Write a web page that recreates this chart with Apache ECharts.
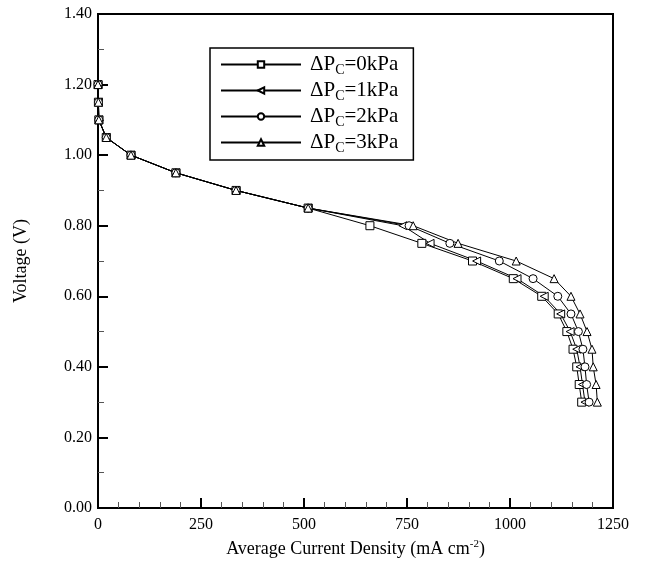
<!DOCTYPE html>
<html>
<head>
<meta charset="utf-8">
<script src="https://cdn.jsdelivr.net/npm/echarts@6/dist/echarts.min.js"></script>
<style>
  html, body { margin: 0; padding: 0; background: #fff; }
  #chart { width: 646px; height: 566px; }
</style>
</head>
<body>
<div id="chart"></div>
<script>
// voltage levels shared by all curves (V)
const voltage = [1.20, 1.15, 1.10, 1.05, 1.00, 0.95, 0.90, 0.85, 0.80, 0.75, 0.70, 0.65, 0.60, 0.55, 0.50, 0.45, 0.40, 0.35, 0.30];

// average current density (mA cm-2) for each cathode pressure drop
const dp0 = [0, 1, 2, 20, 80, 189, 335, 510, 660, 786, 909, 1008, 1077, 1117, 1138, 1153, 1162, 1168, 1174];
const dp1 = [0, 1, 2, 20, 80, 189, 335, 510, 740, 806, 919, 1017, 1083, 1123, 1146, 1162, 1170, 1176, 1182];
const dp2 = [0, 1, 2, 20, 80, 189, 335, 510, 755, 854, 974, 1056, 1116, 1148, 1166, 1177, 1182, 1186, 1192];
const dp3 = [0, 1, 2, 20, 80, 189, 335, 510, 765, 874, 1015, 1107, 1148, 1170, 1187, 1199, 1202, 1209, 1212];

const legendNames = ['ΔPC=0kPa', 'ΔPC=1kPa', 'ΔPC=2kPa', 'ΔPC=3kPa'];

const font = '"Liberation Serif", "DejaVu Serif", serif';

function pairs(xs) {
  return xs.map((x, i) => [x, voltage[i]]);
}

function makeSeries(name, xs, symbol, rotate) {
  return {
    name: name,
    type: 'line',
    data: pairs(xs),
    symbol: symbol,
    symbolRotate: rotate || 0,
    symbolSize: 8,
    showSymbol: true,
    lineStyle: { color: '#000', width: 1 },
    itemStyle: { color: '#fff', borderColor: '#000', borderWidth: 1 },
    emphasis: { disabled: true },
    animation: false
  };
}

const chart = echarts.init(document.getElementById('chart'));

const option = {
  backgroundColor: '#fff',
  animation: false,
  grid: {
    left: 98, right: 33, top: 14, bottom: 58,
    show: true, borderColor: '#000', borderWidth: 2
  },
  legend: {
    orient: 'vertical',
    left: 210, top: 48,
    data: legendNames,
    itemWidth: 80, itemHeight: 8,
    itemGap: 3,
    padding: [6, 15, 5, 10],
    borderColor: '#000', borderWidth: 1.5,
    backgroundColor: '#fff',
    formatter: function (n) {
      return '{a|ΔP}{s|C}{a|' + n.slice(3) + '}';
    },
    textStyle: {
      padding: [0, 0, 0, 4],
      rich: {
        a: { fontFamily: font, fontSize: 21, color: '#000' },
        s: { fontFamily: font, fontSize: 14, color: '#000', padding: [11, 0, 0, 0] }
      }
    }
  },
  xAxis: {
    type: 'value',
    min: 0, max: 1250, interval: 250,
    name: '{a|Average Current Density (mA cm}{s|-2}{a|)}',
    nameLocation: 'middle',
    nameGap: 31,
    nameTextStyle: {
      rich: {
        a: { fontFamily: font, fontSize: 18, color: '#000' },
        s: { fontFamily: font, fontSize: 11, color: '#000', padding: [0, 0, 9, 0] }
      }
    },
    axisLine: { lineStyle: { color: '#000', width: 2 } },
    axisTick: { inside: true, length: 10, lineStyle: { color: '#000', width: 2 } },
    minorTick: { show: true, splitNumber: 5, length: 6, lineStyle: { color: '#555', width: 1 } },
    splitLine: { show: false },
    axisLabel: {
      fontFamily: font, fontSize: 16, color: '#000', margin: 9,
      formatter: function (v) { return String(v); }
    }
  },
  yAxis: {
    type: 'value',
    min: 0, max: 1.4, interval: 0.2,
    name: 'Voltage (V)',
    nameLocation: 'middle',
    nameGap: 68,
    nameTextStyle: { fontFamily: font, fontSize: 18, color: '#000' },
    axisLine: { lineStyle: { color: '#000', width: 2 } },
    axisTick: { inside: true, length: 10, lineStyle: { color: '#000', width: 2 } },
    minorTick: { show: true, splitNumber: 2, length: 6, lineStyle: { color: '#555', width: 1 } },
    splitLine: { show: false },
    axisLabel: {
      fontFamily: font, fontSize: 16, color: '#000', margin: 6,
      formatter: function (v) { return v.toFixed(2); }
    }
  },
  series: [
    makeSeries(legendNames[0], dp0, 'rect'),
    makeSeries(legendNames[1], dp1, 'triangle', 90),
    makeSeries(legendNames[2], dp2, 'circle'),
    makeSeries(legendNames[3], dp3, 'triangle')
  ]
};

chart.setOption(option);
</script>
</body>
</html>
